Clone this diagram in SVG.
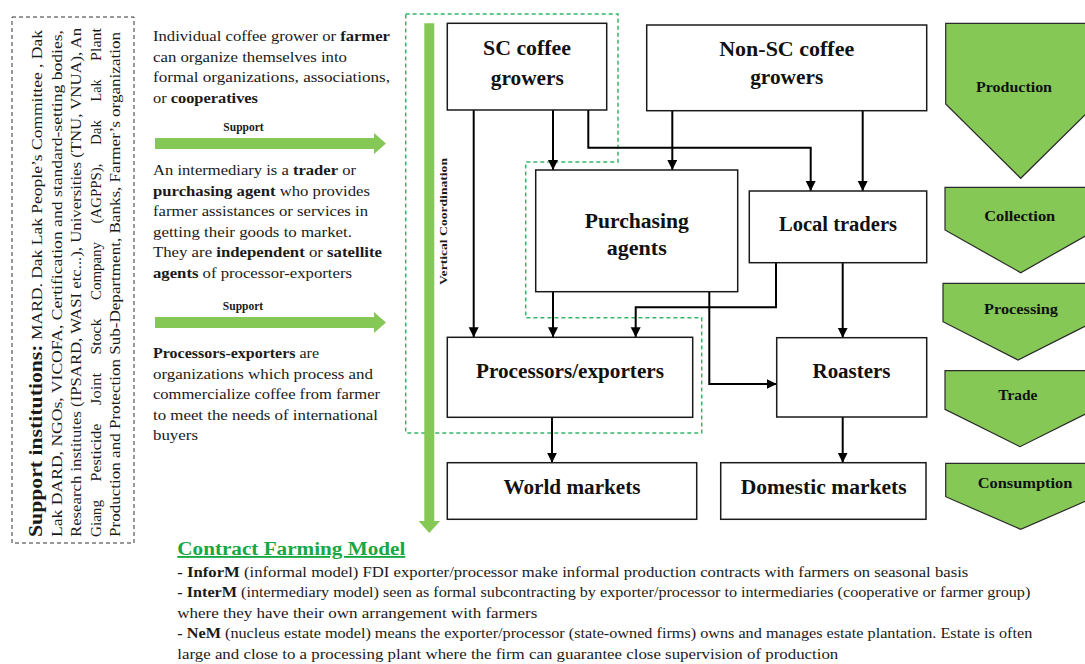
<svg xmlns="http://www.w3.org/2000/svg" width="1085" height="664" viewBox="0 0 1085 664">
<style>
.t{font-family:"Liberation Serif","Times New Roman",serif;fill:#1a1a1a}
.p{font-size:14.5px}
.b{font-weight:bold}
.r{font-size:14.5px}
.node rect{fill:#fff;stroke:#1a1a1a;stroke-width:1.5}
.lbl{font-family:"Liberation Serif","Times New Roman",serif;font-weight:bold;font-size:20px;fill:#111;text-anchor:middle}
.chev polygon{fill:#86c856;stroke:#2a2a2a;stroke-width:1.2}
.chev text{font-family:"Liberation Serif","Times New Roman",serif;font-weight:bold;font-size:14px;fill:#111;text-anchor:middle}
.conn path{fill:none;stroke:#000;stroke-width:2}
.bot{font-size:15px}
</style>
<defs>
<marker id="ah" markerUnits="userSpaceOnUse" markerWidth="11" markerHeight="11" refX="10" refY="5" orient="auto">
<path d="M0,0 L10,5 L0,10 z" fill="#000"/>
</marker>
</defs>
<rect width="1085" height="664" fill="#fff"/>

<!-- Support institutions box -->
<g id="support-institutions">
<rect x="12" y="17" width="122" height="526" fill="none" stroke="#333" stroke-width="1" stroke-dasharray="4 3"/>
<g transform="rotate(-90)" class="t">
<text x="-537" y="42" textLength="507" lengthAdjust="spacingAndGlyphs" class="r"><tspan class="b" font-size="18">Support institutions:</tspan> MARD.  Dak Lak People’s Committee , Dak</text>
<text x="-537" y="61.5" textLength="507" lengthAdjust="spacingAndGlyphs" class="r">Lak DARD, NGOs, VICOFA, Certification and standard-setting bodies,</text>
<text x="-537" y="81" textLength="509" lengthAdjust="spacingAndGlyphs" class="r">Research institutes (IPSARD, WASI etc...), Universities (TNU, VNUA), An</text>
<text x="-537" y="100.5" textLength="37" lengthAdjust="spacingAndGlyphs" class="r">Giang</text>
<text x="-481.5" y="100.5" textLength="58" lengthAdjust="spacingAndGlyphs" class="r">Pesticide</text>
<text x="-405" y="100.5" textLength="32" lengthAdjust="spacingAndGlyphs" class="r">Joint</text>
<text x="-354.5" y="100.5" textLength="36" lengthAdjust="spacingAndGlyphs" class="r">Stock</text>
<text x="-300" y="100.5" textLength="58" lengthAdjust="spacingAndGlyphs" class="r">Company</text>
<text x="-223.5" y="100.5" textLength="60" lengthAdjust="spacingAndGlyphs" class="r">(AGPPS),</text>
<text x="-145" y="100.5" textLength="25" lengthAdjust="spacingAndGlyphs" class="r">Dak</text>
<text x="-101.5" y="100.5" textLength="22" lengthAdjust="spacingAndGlyphs" class="r">Lak</text>
<text x="-61" y="100.5" textLength="33" lengthAdjust="spacingAndGlyphs" class="r">Plant</text>
<text x="-537" y="120" textLength="505" lengthAdjust="spacingAndGlyphs" class="r">Production and Protection Sub-Department, Banks, Farmer’s organization</text>
</g>
</g>

<!-- Description texts -->
<g id="desc-farmer" class="t p">
<text x="153" y="41" textLength="237" lengthAdjust="spacingAndGlyphs">Individual coffee grower or <tspan class="b">farmer</tspan></text>
<text x="153" y="61.5" textLength="194" lengthAdjust="spacingAndGlyphs">can organize themselves into</text>
<text x="153" y="82" textLength="237" lengthAdjust="spacingAndGlyphs">formal organizations, associations,</text>
<text x="153" y="102.5" textLength="105" lengthAdjust="spacingAndGlyphs">or <tspan class="b">cooperatives</tspan></text>
</g>
<g id="support-arrow-1">
<text x="243.5" y="131" class="t b" font-size="11.5" text-anchor="middle">Support</text>
<polygon points="155,138 374,138 374,133 386,143.5 374,154 374,149 155,149" fill="#86c856"/>
</g>
<g id="desc-intermediary" class="t p">
<text x="153" y="175" textLength="203" lengthAdjust="spacingAndGlyphs">An intermediary is a <tspan class="b">trader</tspan> or</text>
<text x="153" y="195.5" textLength="217" lengthAdjust="spacingAndGlyphs"><tspan class="b">purchasing agent</tspan> who provides</text>
<text x="153" y="216" textLength="215" lengthAdjust="spacingAndGlyphs">farmer assistances or services in</text>
<text x="153" y="236.5" textLength="199" lengthAdjust="spacingAndGlyphs">getting their goods to market.</text>
<text x="153" y="257" textLength="229" lengthAdjust="spacingAndGlyphs">They are <tspan class="b">independent</tspan> or <tspan class="b">satellite</tspan></text>
<text x="153" y="277.5" textLength="199" lengthAdjust="spacingAndGlyphs"><tspan class="b">agents</tspan> of processor-exporters</text>
</g>
<g id="support-arrow-2">
<text x="243" y="310" class="t b" font-size="11.5" text-anchor="middle">Support</text>
<polygon points="155,317 374,317 374,312 386,322.5 374,333 374,328 155,328" fill="#86c856"/>
</g>
<g id="desc-processor" class="t p">
<text x="153" y="358" textLength="166" lengthAdjust="spacingAndGlyphs"><tspan class="b">Processors-exporters</tspan> are</text>
<text x="153" y="378.5" textLength="220" lengthAdjust="spacingAndGlyphs">organizations which process and</text>
<text x="153" y="399" textLength="227" lengthAdjust="spacingAndGlyphs">commercialize coffee from farmer</text>
<text x="153" y="419.5" textLength="225" lengthAdjust="spacingAndGlyphs">to meet the needs of international</text>
<text x="153" y="440" textLength="45" lengthAdjust="spacingAndGlyphs">buyers</text>
</g>

<!-- Vertical coordination -->
<g id="vertical-coordination">
<path d="M405.7,14 H618 V162 H525.7 V317.7 H701.7 V433 H405.7 Z" fill="none" stroke="#33b86a" stroke-width="1.5" stroke-dasharray="4 3"/>
<polygon points="424.3,23.3 434.3,23.3 434.3,521 440,521 429.3,533 418.6,521 424.3,521" fill="#86c856"/>
<text transform="translate(447,221.5) rotate(-90)" x="0" y="0" class="t b" font-size="10.5" text-anchor="middle" textLength="127" lengthAdjust="spacingAndGlyphs">Vertical Coordination</text>
</g>

<!-- Connectors -->
<g id="connectors" class="conn">
<path d="M473.7,110 V337.3" marker-end="url(#ah)"/>
<path d="M553,110 V170" marker-end="url(#ah)"/>
<path d="M588.3,110 V147.7 H810.7 V191" marker-end="url(#ah)"/>
<path d="M672.3,110.7 V170" marker-end="url(#ah)"/>
<path d="M862.7,110.7 V191" marker-end="url(#ah)"/>
<path d="M553,291.7 V337.3" marker-end="url(#ah)"/>
<path d="M709.3,291.7 V384 H776.7" marker-end="url(#ah)"/>
<path d="M776,262.7 V307.3 H635.7 V337.3" marker-end="url(#ah)"/>
<path d="M842.7,262.7 V337.7" marker-end="url(#ah)"/>
<path d="M552,417.3 V462.7" marker-end="url(#ah)"/>
<path d="M842.7,417 V462.7" marker-end="url(#ah)"/>
</g>

<!-- Nodes -->
<g id="sc-growers" class="node">
<rect x="447.3" y="23.3" width="159.4" height="86.7"/>
<text x="527" y="55" class="lbl" textLength="88" lengthAdjust="spacingAndGlyphs">SC coffee</text>
<text x="527.3" y="85" class="lbl" textLength="73" lengthAdjust="spacingAndGlyphs">growers</text>
</g>
<g id="non-sc-growers" class="node">
<rect x="646.7" y="25" width="280" height="85.7"/>
<text x="786.7" y="56" class="lbl" textLength="135" lengthAdjust="spacingAndGlyphs">Non-SC coffee</text>
<text x="786.7" y="83.5" class="lbl" textLength="73" lengthAdjust="spacingAndGlyphs">growers</text>
</g>
<g id="purchasing-agents" class="node">
<rect x="535.7" y="170" width="202" height="121.7"/>
<text x="636.8" y="228" class="lbl" textLength="104" lengthAdjust="spacingAndGlyphs">Purchasing</text>
<text x="636.8" y="255" class="lbl" textLength="60" lengthAdjust="spacingAndGlyphs">agents</text>
</g>
<g id="local-traders" class="node">
<rect x="749.3" y="191" width="177.4" height="71.7"/>
<text x="838" y="231" class="lbl" textLength="118" lengthAdjust="spacingAndGlyphs">Local traders</text>
</g>
<g id="processors-exporters" class="node">
<rect x="447.3" y="337.3" width="245.4" height="80"/>
<text x="570" y="377.5" class="lbl" textLength="188" lengthAdjust="spacingAndGlyphs">Processors/exporters</text>
</g>
<g id="roasters" class="node">
<rect x="776.7" y="337.7" width="150" height="79.3"/>
<text x="851.5" y="378" class="lbl" textLength="78" lengthAdjust="spacingAndGlyphs">Roasters</text>
</g>
<g id="world-markets" class="node">
<rect x="447.3" y="462.7" width="249.4" height="56.6"/>
<text x="572" y="493.5" class="lbl" textLength="137" lengthAdjust="spacingAndGlyphs">World markets</text>
</g>
<g id="domestic-markets" class="node">
<rect x="720.7" y="462.7" width="205.3" height="56.6"/>
<text x="823.7" y="493.5" class="lbl" textLength="166" lengthAdjust="spacingAndGlyphs">Domestic markets</text>
</g>

<!-- Stage chevrons -->
<g id="stage-production" class="chev">
<polygon points="945.7,23.3 1096,23.3 1096,104 1020.7,178.3 945.7,104"/>
<text x="1014" y="92" textLength="76" lengthAdjust="spacingAndGlyphs">Production</text>
</g>
<g id="stage-collection" class="chev">
<polygon points="945,187.3 1096,187.3 1096,230 1020.7,272.7 945,230"/>
<text x="1019.7" y="220.5" textLength="71" lengthAdjust="spacingAndGlyphs">Collection</text>
</g>
<g id="stage-processing" class="chev">
<polygon points="943,283.3 1094,283.3 1094,321.7 1018,360 943,321.7"/>
<text x="1021" y="313.5" textLength="74" lengthAdjust="spacingAndGlyphs">Processing</text>
</g>
<g id="stage-trade" class="chev">
<polygon points="945,370.7 1095,370.7 1095,409.3 1020,446.7 945,409.3"/>
<text x="1017.8" y="399.5" textLength="39" lengthAdjust="spacingAndGlyphs">Trade</text>
</g>
<g id="stage-consumption" class="chev">
<polygon points="945.7,463.3 1096,463.3 1096,496.7 1020.7,529.3 945.7,496.7"/>
<text x="1025" y="487.5" textLength="94.7" lengthAdjust="spacingAndGlyphs">Consumption</text>
</g>

<!-- Contract farming model -->
<g id="contract-farming" class="t">
<text x="177.3" y="555" font-size="18.5" font-weight="bold" text-decoration="underline" textLength="228" lengthAdjust="spacingAndGlyphs" style="fill:#17a845">Contract Farming Model</text>
<text x="177.3" y="577" class="bot" textLength="791" lengthAdjust="spacingAndGlyphs"><tspan class="b">- InforM</tspan> (informal model) FDI exporter/processor make informal production contracts with farmers on seasonal basis</text>
<text x="177.3" y="597" class="bot" textLength="853" lengthAdjust="spacingAndGlyphs"><tspan class="b">- InterM</tspan> (intermediary model) seen as formal subcontracting by exporter/processor to intermediaries (cooperative or farmer group)</text>
<text x="177.3" y="617.5" class="bot" textLength="360" lengthAdjust="spacingAndGlyphs">where they have their own arrangement with farmers</text>
<text x="177.3" y="638" class="bot" textLength="855" lengthAdjust="spacingAndGlyphs"><tspan class="b">- NeM</tspan> (nucleus estate model) means the exporter/processor (state-owned firms) owns and manages estate plantation. Estate is often</text>
<text x="177.3" y="658.5" class="bot" textLength="661" lengthAdjust="spacingAndGlyphs">large and close to a processing plant where the firm can guarantee close supervision of production</text>
</g>
</svg>
